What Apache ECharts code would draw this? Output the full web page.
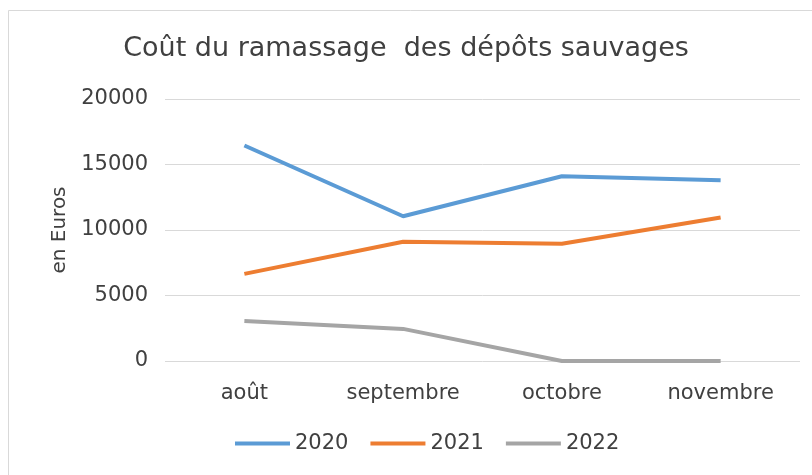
<!DOCTYPE html>
<html>
<head>
<meta charset="utf-8">
<script src="https://cdn.jsdelivr.net/npm/echarts@6/dist/echarts.min.js"></script>
<style>
  html, body { margin: 0; padding: 0; background: #fff; }
  #main { width: 812px; height: 475px; }
</style>
</head>
<body>
<div id="main"></div>
<script>
var months = ['août', 'septembre', 'octobre', 'novembre'];
var cout2020 = [16450, 11050, 14100, 13800];
var cout2021 = [6650, 9100, 8950, 10950];
var cout2022 = [3050, 2450, 0, 0];
var yTicks = [0, 5000, 10000, 15000, 20000];

var myChart = echarts.init(document.getElementById('main'));

// police large, proche de Century Gothic
var police = '"DejaVu Sans", sans-serif';

var option = {
    animation: false,
    backgroundColor: '#fff',
    title: {
        text: 'Coût du ramassage  des dépôts sauvages',
        left: 'center',
        top: 30,
        textStyle: { fontFamily: police, fontSize: 27, fontWeight: 'normal', color: '#404040' }
    },
    legend: {
        top: 428,
        left: 230,
        itemWidth: 55,
        itemHeight: 4,
        itemGap: 22,
        icon: 'rect',
        textStyle: { fontFamily: police, fontSize: 21, color: '#404040' },
        data: ['2020', '2021', '2022']
    },
    grid: { left: 165, right: 12, top: 99, bottom: 114 },
    xAxis: {
        type: 'category',
        data: months,
        boundaryGap: true,
        axisLine: { show: false },
        axisTick: { show: false },
        axisLabel: { fontFamily: police, fontSize: 21, color: '#404040', margin: 22 }
    },
    yAxis: {
        type: 'value',
        min: yTicks[0],
        max: yTicks[yTicks.length - 1],
        interval: 5000,
        name: 'en Euros',
        nameLocation: 'middle',
        nameGap: 92,
        nameRotate: 90,
        nameTextStyle: { fontFamily: police, fontSize: 20, color: '#404040' },
        axisLine: { show: false },
        axisTick: { show: false },
        axisLabel: {
            fontFamily: police, fontSize: 21, color: '#404040', margin: 17,
            formatter: function (v) { return String(v); }
        },
        splitLine: { lineStyle: { color: '#d9d9d9', width: 1 } }
    },
    series: [
        { name: '2020', type: 'line', data: cout2020, symbol: 'none', color: '#5B9BD5', lineStyle: { width: 4 } },
        { name: '2021', type: 'line', data: cout2021, symbol: 'none', color: '#ED7D31', lineStyle: { width: 4 } },
        { name: '2022', type: 'line', data: cout2022, symbol: 'none', color: '#A5A5A5', lineStyle: { width: 4 } }
    ],
    graphic: [{
        type: 'rect',
        shape: { x: 8.5, y: 10.5, width: 820, height: 480 },
        style: { fill: 'none', stroke: '#d9d9d9', lineWidth: 1 },
        silent: true
    }]
};

myChart.setOption(option);
</script>
</body>
</html>
